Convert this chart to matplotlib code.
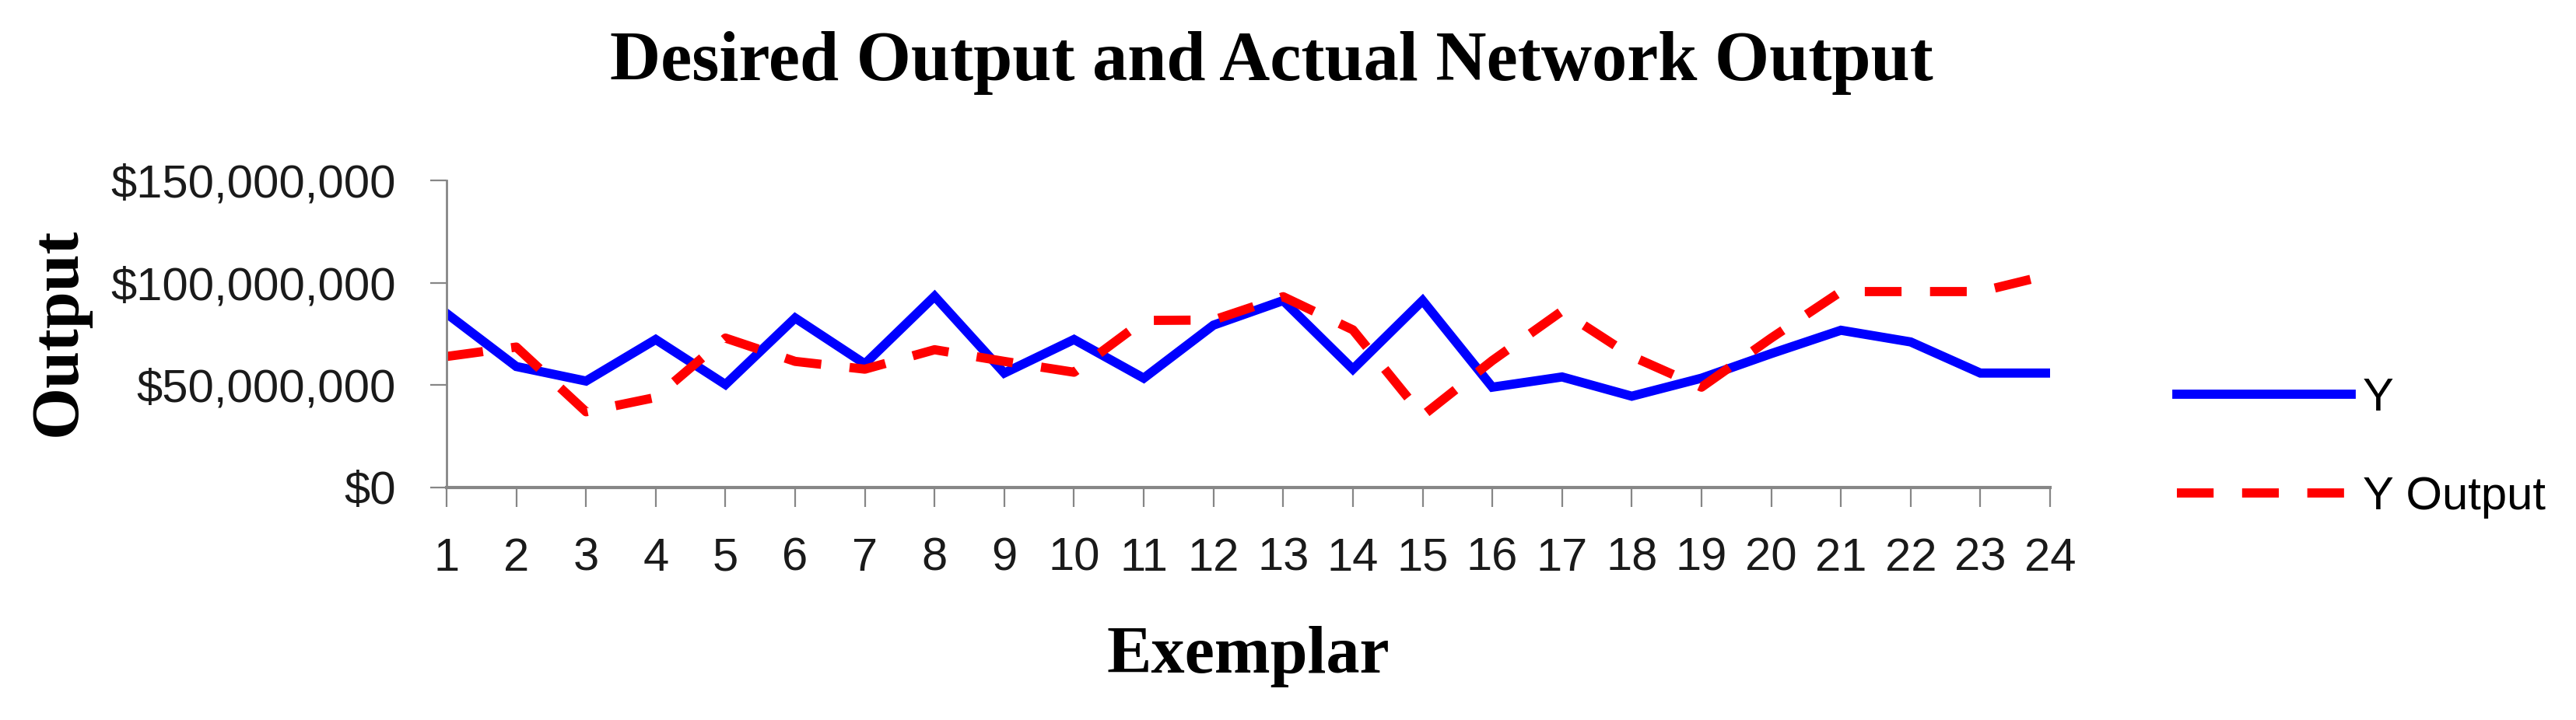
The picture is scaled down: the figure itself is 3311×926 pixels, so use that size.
import matplotlib
matplotlib.use('Agg')
import matplotlib.pyplot as plt
from matplotlib.ticker import FuncFormatter

# ── Data (values in dollars) ─────────────────────────────────────────────────
EXEMPLARS = list(range(1, 25))
Y_DESIRED = [85.0, 59.1, 52.0, 72.3, 50.3, 82.8, 60.4, 93.4, 55.9, 72.3, 53.4, 79.3,
             91.3, 57.8, 91.3, 49.0, 54.0, 44.6, 53.4, 65.4, 76.8, 71.1, 55.9, 55.9]
Y_OUTPUT = [64.0, 68.6, 37.0, 44.0, 73.0, 61.6, 57.8, 67.3, 61.6, 56.3, 81.6, 81.8,
            93.2, 77.0, 35.1, 62.0, 86.2, 64.1, 49.0, 73.0, 95.7, 95.7, 95.7, 104.0]
Y_DESIRED = [v * 1e6 for v in Y_DESIRED]
Y_OUTPUT = [v * 1e6 for v in Y_OUTPUT]
Y_TICKS = [0, 50e6, 100e6, 150e6]
SERIES_LABELS = ["Y", "Y Output"]

# ── Style ────────────────────────────────────────────────────────────────────
W, H = 3311, 926
AXIS_GREY = "#868686"
SERIF = ["Liberation Serif", "DejaVu Serif"]
SANS = ["Liberation Sans", "DejaVu Sans"]
TICK_FS = 43
LW = 8.5

fig = plt.figure(figsize=(W / 100, H / 100), dpi=100)
fig.patch.set_facecolor("white")

# plot area: x=1 at 574px, x=24 at 2635px; $0 at 627px, $150M at 232px
ax = fig.add_axes([574 / W, 1 - 627 / H, (2635 - 574) / W, (627 - 232) / H])

ax.plot(EXEMPLARS, Y_DESIRED, color="#0000FF", lw=LW, solid_joinstyle="miter",
        label=SERIES_LABELS[0])
ax.plot(EXEMPLARS, Y_OUTPUT, color="#FF0000", lw=LW, dashes=(4.0, 3.1),
        dash_capstyle="butt", label=SERIES_LABELS[1])

ax.set_xlim(1, 24)
ax.set_ylim(0, 150e6)
ax.set_xticks(EXEMPLARS)
ax.set_yticks(Y_TICKS)
ax.yaxis.set_major_formatter(FuncFormatter(lambda v, p: f"${v:,.0f}"))

for s in ("top", "right"):
    ax.spines[s].set_visible(False)
ax.spines["left"].set_color(AXIS_GREY)
ax.spines["left"].set_linewidth(2)
ax.spines["bottom"].set_color(AXIS_GREY)
ax.spines["bottom"].set_linewidth(3)

ax.tick_params(axis="y", direction="out", length=15, width=1.6, color=AXIS_GREY,
               pad=32, labelsize=TICK_FS, labelcolor="#1a1a1a")
ax.tick_params(axis="x", direction="out", length=18, width=1.6, color=AXIS_GREY,
               pad=28, labelsize=TICK_FS, labelcolor="#1a1a1a")
for lbl in ax.get_xticklabels() + ax.get_yticklabels():
    lbl.set_fontfamily(SANS)

# ── Titles ───────────────────────────────────────────────────────────────────
fig.text(1634 / W, 1 - 103 / H, "Desired Output and Actual Network Output",
         ha="center", va="baseline", fontsize=65, fontweight="bold",
         family=SERIF, color="black")
fig.text(76 / W, 1 - 427 / H, "Output", rotation=90,
         ha="center", va="center", fontsize=62, fontweight="bold",
         family=SERIF, color="black")
fig.text(1604 / W, 1 - 865 / H, "Exemplar",
         ha="center", va="baseline", fontsize=62, fontweight="bold",
         family=SERIF, color="black")

# ── Legend ───────────────────────────────────────────────────────────────────
leg = ax.legend(loc="center left", bbox_to_anchor=(2798 / W, 1 - 576 / H),
                bbox_transform=fig.transFigure, frameon=False,
                prop={"family": SANS, "size": TICK_FS},
                handlelength=3.75, handletextpad=0.25, labelspacing=1.2,
                borderpad=0, borderaxespad=0)

fig.savefig("out.png", dpi=100, facecolor="white")
